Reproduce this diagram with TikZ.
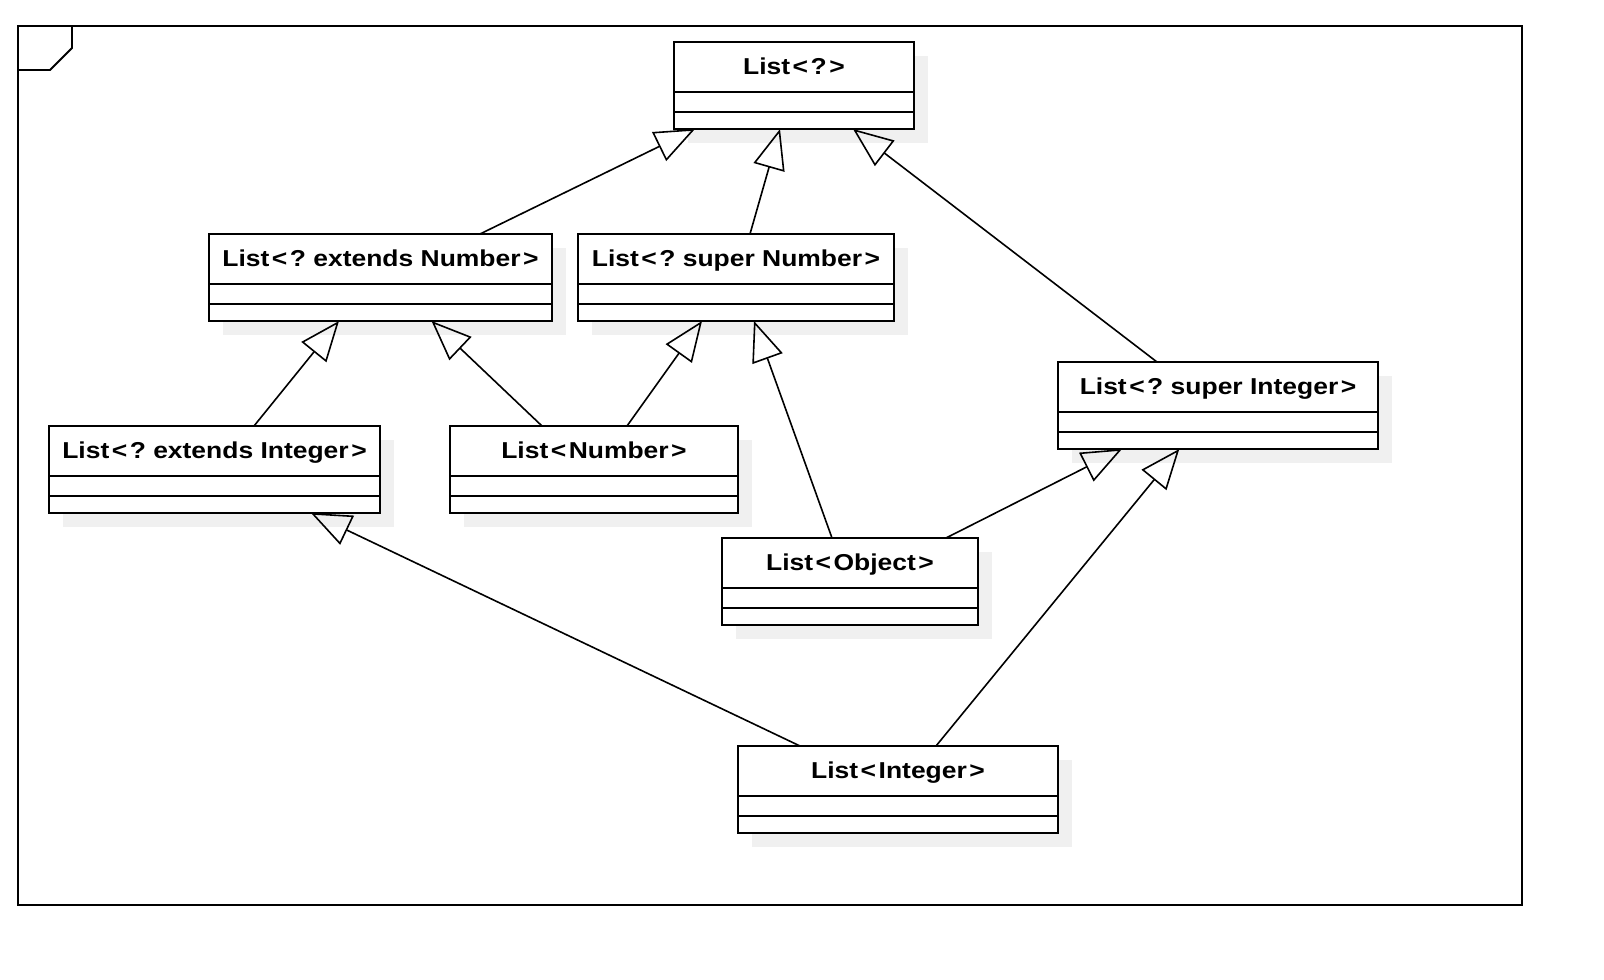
\documentclass[tikz,border=0pt]{standalone}
\usepackage{fontspec}
\newfontfamily\umlfont[FakeStretch=1.15]{Liberation Sans Bold}
\usetikzlibrary{arrows.meta}
\frenchspacing
\definecolor{shadowc}{RGB}{240,240,240}
\newcommand\LT{\kern2.5pt<\kern2.5pt}
\newcommand\GT{\kern2.5pt>}
\tikzset{
  clsbox/.style={draw=black, fill=white, line width=1.8pt, inner sep=0pt, outer sep=0pt, rectangle},
  clsline/.style={line width=1.8pt},
  clstitle/.style={anchor=base, inner sep=0pt, font=\umlfont\fontsize{23}{27}\selectfont},
  gen/.style={line width=1.6pt, -{Triangle[open, length=40pt, width=32pt]}},
  framestyle/.style={line width=1.8pt}
}
\newcommand\umlcls[6]{%
  \fill[shadowc] ({#2+14},{#3+14}) rectangle ({#4+14},{#5+14});
  \node[clsbox, minimum width={#4-#2}, minimum height={#5-#3}] (#1) at ({(#2+#4)/2},{(#3+#5)/2}) {};
  \draw[clsline] ([yshift=-50pt]#1.north west) -- ([yshift=-50pt]#1.north east);
  \draw[clsline] ([yshift=-70pt]#1.north west) -- ([yshift=-70pt]#1.north east);
  \node[clstitle] at ([yshift=-32pt]#1.north) {#6};
}
\begin{document}
\begin{tikzpicture}[x=1pt, y=-1pt]
\useasboundingbox (0,0) rectangle (1604,980);
\fill[white] (0,0) rectangle (1604,980);
% frame
\draw[framestyle] (18,26) rectangle (1522,905);
\draw[framestyle] (72,26) -- (72,48) -- (50,70) -- (18,70);
% classes
\umlcls{lq}{674}{42}{914}{129}{List\LT?\GT}
\umlcls{lextn}{209}{234}{552}{321}{List\LT? extends Number\GT}
\umlcls{lsupn}{578}{234}{894}{321}{List\LT? super Number\GT}
\umlcls{lexti}{49}{426}{380}{513}{List\LT? extends Integer\GT}
\umlcls{lnum}{450}{426}{738}{513}{List\LT Number\GT}
\umlcls{lsupi}{1058}{362}{1378}{449}{List\LT? super Integer\GT}
\umlcls{lobj}{722}{538}{978}{625}{List\LT Object\GT}
\umlcls{lint}{738}{746}{1058}{833}{List\LT Integer\GT}
% generalizations
\draw[gen] ([xshift=99.5pt]lextn.north) -- ([xshift=-99pt]lq.south);
\draw[gen] ([xshift=14pt]lsupn.north) -- ([xshift=-14pt]lq.south);
\draw[gen] ([xshift=-61pt]lsupi.north) -- ([xshift=59pt]lq.south);
\draw[gen] ([xshift=39.5pt]lexti.north) -- ([xshift=-41.5pt]lextn.south);
\draw[gen] ([xshift=-52pt]lnum.north) -- ([xshift=51pt]lextn.south);
\draw[gen] ([xshift=33pt]lnum.north) -- ([xshift=-34pt]lsupn.south);
\draw[gen] ([xshift=-18pt]lobj.north) -- ([xshift=18pt]lsupn.south);
\draw[gen] ([xshift=96pt]lobj.north) -- ([xshift=-96pt]lsupi.south);
\draw[gen] ([xshift=-98pt]lint.north) -- ([xshift=96.5pt]lexti.south);
\draw[gen] ([xshift=38pt]lint.north) -- ([xshift=-38.7pt]lsupi.south);
\end{tikzpicture}
\end{document}
